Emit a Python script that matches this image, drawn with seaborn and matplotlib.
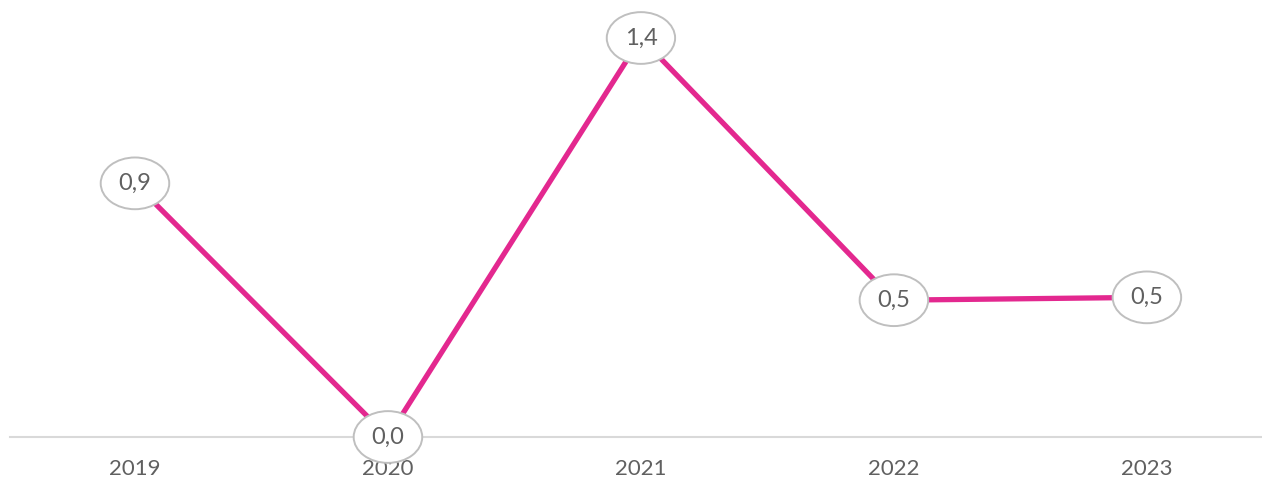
import matplotlib
matplotlib.use("Agg")
import matplotlib.pyplot as plt
import seaborn as sns
import pandas as pd

years = ["2019", "2020", "2021", "2022", "2023"]
values = [0.89, 0.0, 1.40, 0.48, 0.49]

df = pd.DataFrame({"pos": range(len(years)), "value": values})

sns.set_style("white")
plt.rcParams["font.family"] = ["Lato", "DejaVu Sans"]

W, H = 1262, 479
fig = plt.figure(figsize=(W / 100, H / 100), dpi=100)
ax = fig.add_axes([10 / W, (H - 437) / H, 1252 / W, 437 / H])

sns.lineplot(data=df, x="pos", y="value", ax=ax, color="#E3288F",
             linewidth=3.8, zorder=2, solid_capstyle="butt")

for x, v in zip(df["pos"], df["value"]):
    ax.text(x, v, f"{v:.1f}".replace(".", ","), ha="center", va="center",
            fontsize=17, color="#606060", fontweight="normal", zorder=5,
            bbox=dict(boxstyle="ellipse,pad=0.33", fc="white",
                      ec="#bfbfbf", lw=1.4))

ax.set_xlim(-0.494, 4.455)
ax.set_ylim(0, 1.4 * 437 / (437 - 38))
ax.set_xticks(range(len(years)))
ax.set_xticklabels(years, fontsize=16, color="#606060", fontweight="normal")
ax.set_yticks([])
ax.set_xlabel("")
ax.set_ylabel("")
ax.tick_params(axis="x", length=0, pad=16)

for side in ["top", "left", "right"]:
    ax.spines[side].set_visible(False)
ax.spines["bottom"].set_color("#d9d9d9")
ax.spines["bottom"].set_linewidth(1.5)
ax.patch.set_alpha(0)

fig.savefig("out.png", dpi=100)
